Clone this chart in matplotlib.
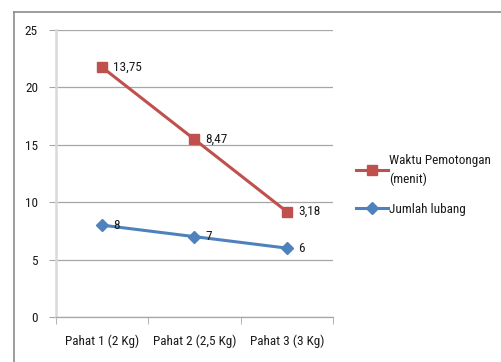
import matplotlib
matplotlib.use("Agg")
import matplotlib.pyplot as plt
from matplotlib import font_manager
from matplotlib.lines import Line2D

# Stacked line chart: the cutting time is drawn on top of the hole count.
categories = ["Pahat 1 (2 Kg)", "Pahat 2 (2,5 Kg)", "Pahat 3 (3 Kg)"]
jumlah_lubang = [8, 7, 6]
waktu_pemotongan = [13.75, 8.47, 3.18]
y_ticks = [0, 5, 10, 15, 20, 25]

# Prefer a narrow face if one is available.
installed = {f.name for f in font_manager.fontManager.ttflist}
for family, fs in [("Liberation Sans Narrow", 9.5),
                   ("Roboto Condensed", 9.5),
                   ("DejaVu Sans Condensed", 8.5),
                   ("Liberation Sans", 8.7)]:
    if family in installed:
        break
plt.rcParams["font.family"] = [family, "DejaVu Sans"]

RED = "#C0504D"
BLUE = "#4F81BD"
TEXT = "#1A1A1A"

W, H = 502, 362
fig = plt.figure(figsize=(W / 100, H / 100), dpi=100)
ax = fig.add_axes([56 / W, 45 / H, 277 / W, 287 / H])

x = list(range(len(categories)))
stacked = [b + r for b, r in zip(jumlah_lubang, waktu_pemotongan)]

ax.plot(x, jumlah_lubang, color=BLUE, lw=2.2, marker="D", ms=6,
        label="Jumlah lubang", zorder=3)
ax.plot(x, stacked, color=RED, lw=2.2, marker="s", ms=7.5,
        label="Waktu Pemotongan\n(menit)", zorder=3)

for xi, yi, v in zip(x, jumlah_lubang, jumlah_lubang):
    ax.annotate(f"{v:g}", (xi, yi), xytext=(8, 0), textcoords="offset points",
                va="center", ha="left", fontsize=fs, color=TEXT)
for xi, yi, v in zip(x, stacked, waktu_pemotongan):
    ax.annotate(f"{v:.2f}".replace(".", ","), (xi, yi), xytext=(8, 0),
                textcoords="offset points", va="center", ha="left",
                fontsize=fs, color=TEXT)

ax.set_xlim(-0.5, len(categories) - 0.5)
ax.set_ylim(0, 25)
ax.set_yticks(y_ticks)
ax.set_yticklabels([str(t) for t in y_ticks], fontsize=fs, color=TEXT)
ax.set_xticks(x)
ax.set_xticklabels(categories, fontsize=fs, color=TEXT)
ax.set_xticks([i - 0.5 for i in range(len(categories) + 1)], minor=True)
ax.tick_params(axis="x", which="major", length=0, pad=13)
ax.tick_params(axis="x", which="minor", length=5, color="#A6A6A6", direction="out")
ax.tick_params(axis="y", length=5, color="#A6A6A6", pad=8)

ax.grid(axis="y", color="#A6A6A6", lw=0.9)
ax.set_axisbelow(True)
for side in ["top", "right"]:
    ax.spines[side].set_visible(False)
ax.spines["left"].set_color("#D9D9D9")
ax.spines["left"].set_linewidth(1.8)
ax.spines["bottom"].set_color("#A6A6A6")
ax.spines["bottom"].set_linewidth(0.9)

handles, labels = ax.get_legend_handles_labels()
leg = fig.legend(handles[::-1], labels[::-1], loc="upper left",
                 bbox_to_anchor=(351 / W, 1 - 149 / H), frameon=False,
                 fontsize=fs, handlelength=2.4, handletextpad=0.1,
                 labelspacing=1.3, borderaxespad=0)
for t in leg.get_texts():
    t.set_color(TEXT)
    t.set_linespacing(1.5)

# Outer chart frame: top and left edges only.
fig.add_artist(Line2D([14 / W, 1], [1 - 12 / H, 1 - 12 / H],
                      transform=fig.transFigure, color="#8C8C8C", lw=1.2))
fig.add_artist(Line2D([14 / W, 14 / W], [0, 1 - 12 / H],
                      transform=fig.transFigure, color="#8C8C8C", lw=1.2))

fig.savefig("out.png", dpi=100)
